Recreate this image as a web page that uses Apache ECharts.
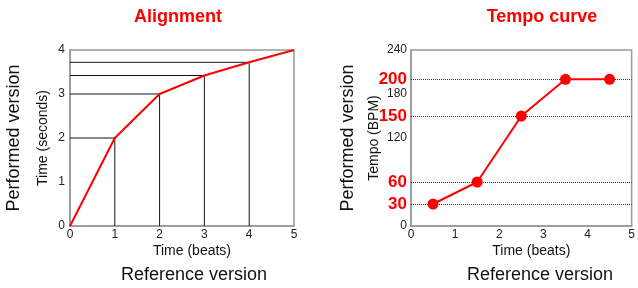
<!DOCTYPE html>
<html>
<head>
<meta charset="utf-8">
<script src="https://cdn.jsdelivr.net/npm/echarts@6/dist/echarts.min.js"></script>
<style>
  html, body { margin: 0; padding: 0; background: #fff; }
  #main { width: 638px; height: 288px; }
</style>
</head>
<body>
<div id="main"></div>
<script>
// alignment: reference beats -> performed seconds
var beats = [0, 1, 2, 3, 4, 5];
var seconds = [0, 2, 3, 3.42, 3.72, 4];

// tempo curve
var tempoBeats = [0.5, 1.5, 2.5, 3.5, 4.5];
var tempoBpm = [30, 60, 150, 200, 200];
var tempoTicks = [0, 30, 60, 120, 150, 180, 200, 240];
var tempoMarks = [30, 60, 150, 200];

var chart = echarts.init(document.getElementById("main"));

// guide lines from the axes to each alignment point
var guideSeries = [];
for (var i = 1; i < beats.length - 1; i++) {
  guideSeries.push({
    type: "line",
    xAxisIndex: 0,
    yAxisIndex: 0,
    data: [[0, seconds[i]], [beats[i], seconds[i]], [beats[i], 0]],
    symbol: "none",
    silent: true,
    lineStyle: { color: "#111", width: 1 },
    z: 2
  });
}

var font = "Arial, 'Liberation Sans', sans-serif";

var option = {
  animation: false,
  textStyle: { fontFamily: font },
  title: [
    { text: "Alignment", left: 173, top: 3, textAlign: "center",
      textStyle: { color: "#ff0000", fontSize: 18, fontWeight: "bold", fontFamily: font } },
    { text: "Tempo curve", left: 537, top: 3, textAlign: "center",
      textStyle: { color: "#ff0000", fontSize: 18, fontWeight: "bold", fontFamily: font } }
  ],
  grid: [
    { left: 70, top: 50, width: 224, height: 176, show: true, borderColor: "#999", borderWidth: 1.5 },
    { left: 411, top: 50, width: 224, height: 176, show: true, borderColor: "#999", borderWidth: 1.5 }
  ],
  xAxis: [
    {
      gridIndex: 0, type: "value", min: 0, max: 5, interval: 1,
      name: "Time (beats)", nameLocation: "middle", nameGap: 18, nameMoveOverlap: false,
      nameTextStyle: { color: "#111", fontSize: 14, padding: [0, 0, 0, 20] },
      axisLine: { lineStyle: { color: "#999", width: 1.5 } },
      axisTick: { show: false },
      axisLabel: { color: "#222", fontSize: 12, margin: 3 },
      splitLine: { show: false }
    },
    {
      gridIndex: 1, type: "value", min: 0, max: 5, interval: 1,
      name: "Time (beats)", nameLocation: "middle", nameGap: 18, nameMoveOverlap: false,
      nameTextStyle: { color: "#111", fontSize: 14, padding: [0, 0, 0, 20] },
      axisLine: { lineStyle: { color: "#999", width: 1.5 } },
      axisTick: { show: false },
      axisLabel: { color: "#222", fontSize: 12, margin: 3 },
      splitLine: { show: false }
    }
  ],
  yAxis: [
    {
      gridIndex: 0, type: "value", min: 0, max: 4, interval: 1,
      name: "Time (seconds)", nameLocation: "middle", nameGap: 20, nameMoveOverlap: false,
      nameTextStyle: { color: "#111", fontSize: 14 },
      axisLine: { show: true, lineStyle: { color: "#999", width: 1.5 } },
      axisTick: { show: false },
      axisLabel: { color: "#222", fontSize: 12, margin: 5 },
      splitLine: { show: false }
    },
    {
      gridIndex: 1, type: "value", min: 0, max: 240,
      name: "Tempo (BPM)", nameLocation: "middle", nameGap: 30, nameMoveOverlap: false,
      nameTextStyle: { color: "#111", fontSize: 14 },
      axisLine: { show: true, lineStyle: { color: "#999", width: 1.5 } },
      axisTick: { show: false },
      axisLabel: {
        customValues: tempoTicks,
        margin: 4,
        formatter: function (v) {
          return tempoMarks.indexOf(v) >= 0 ? "{r|" + v + "}" : "{k|" + v + "}";
        },
        rich: {
          k: { color: "#222", fontSize: 12, fontFamily: font },
          r: { color: "#ff0000", fontSize: 17, fontWeight: "bold", fontFamily: font }
        }
      },
      splitLine: { show: false }
    }
  ],
  graphic: [
    { type: "text", x: 14, y: 138, rotation: Math.PI / 2,
      style: { text: "Performed version", fill: "#111", font: "18px " + font, align: "center", verticalAlign: "middle" } },
    { type: "text", x: 348, y: 138, rotation: Math.PI / 2,
      style: { text: "Performed version", fill: "#111", font: "18px " + font, align: "center", verticalAlign: "middle" } },
    { type: "text", x: 194, y: 275,
      style: { text: "Reference version", fill: "#111", font: "18px " + font, align: "center", verticalAlign: "middle" } },
    { type: "text", x: 540, y: 275,
      style: { text: "Reference version", fill: "#111", font: "18px " + font, align: "center", verticalAlign: "middle" } }
  ],
  series: guideSeries.concat([
    {
      type: "line",
      xAxisIndex: 0,
      yAxisIndex: 0,
      data: beats.map(function (b, i) { return [b, seconds[i]]; }),
      symbol: "none",
      lineStyle: { color: "#ff0000", width: 2 },
      z: 5
    },
    {
      type: "line",
      xAxisIndex: 1,
      yAxisIndex: 1,
      data: tempoBeats.map(function (b, i) { return [b, tempoBpm[i]]; }),
      symbol: "circle",
      symbolSize: 11,
      itemStyle: { color: "#ff0000" },
      lineStyle: { color: "#ff0000", width: 2 },
      markLine: {
        silent: true,
        symbol: "none",
        label: { show: false },
        lineStyle: { color: "#333", type: [1, 1], width: 1 },
        data: tempoMarks.map(function (m) { return { yAxis: m }; })
      },
      z: 5
    }
  ])
};

chart.setOption(option);
</script>
</body>
</html>
